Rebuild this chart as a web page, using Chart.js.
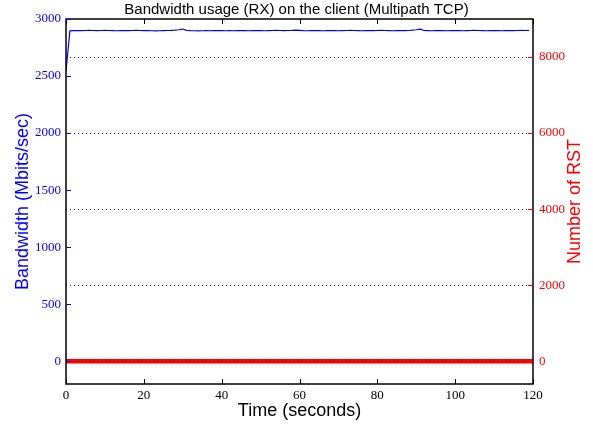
<!DOCTYPE html>
<html>
<head>
<meta charset="utf-8">
<script src="https://cdn.jsdelivr.net/npm/chart.js@4.4.0/dist/chart.umd.min.js"></script>
<style>
  html, body { margin: 0; padding: 0; background: #fff; }
</style>
</head>
<body>
<canvas id="chart" width="593" height="426"></canvas>
<script>
// time axis (seconds)
const timeSec = [
  0, 1, 2, 3, 4, 5, 6, 7, 8, 9, 10, 11, 12, 13, 14, 15, 16, 17, 18, 19,
  20, 21, 22, 23, 24, 25, 26, 27, 28, 29, 30, 31, 32, 33, 34, 35, 36, 37, 38, 39,
  40, 41, 42, 43, 44, 45, 46, 47, 48, 49, 50, 51, 52, 53, 54, 55, 56, 57, 58, 59,
  60, 61, 62, 63, 64, 65, 66, 67, 68, 69, 70, 71, 72, 73, 74, 75, 76, 77, 78, 79,
  80, 81, 82, 83, 84, 85, 86, 87, 88, 89, 90, 91, 92, 93, 94, 95, 96, 97, 98, 99,
  100, 101, 102, 103, 104, 105, 106, 107, 108, 109, 110, 111, 112, 113, 114, 115, 116, 117, 118, 119,
  120
];

// RX bandwidth, Mbits/sec (0..119 s)
const bandwidthRx = [
  2545, 2896, 2898, 2899, 2898, 2899, 2900, 2899, 2898, 2899,
  2900, 2899, 2898, 2897, 2898, 2899, 2898, 2899, 2900, 2899,
  2898, 2899, 2897, 2896, 2897, 2898, 2899, 2900, 2902, 2906,
  2912, 2900, 2898, 2897, 2896, 2897, 2898, 2897, 2898, 2899,
  2898, 2897, 2898, 2897, 2898, 2899, 2898, 2897, 2898, 2899,
  2898, 2897, 2898, 2899, 2900, 2899, 2898, 2899, 2900, 2903,
  2901, 2898, 2897, 2898, 2899, 2898, 2897, 2898, 2899, 2898,
  2897, 2898, 2899, 2900, 2899, 2898, 2897, 2898, 2899, 2898,
  2899, 2900, 2899, 2898, 2897, 2898, 2899, 2898, 2899, 2902,
  2906, 2911, 2899, 2898, 2897, 2898, 2899, 2898, 2897, 2898,
  2899, 2898, 2897, 2898, 2899, 2900, 2899, 2898, 2897, 2898,
  2899, 2898, 2897, 2898, 2899, 2898, 2899, 2900, 2899, 2901
];

// number of RST packets (0..120 s)
const rstCount = [
  0, 0, 0, 0, 0, 0, 0, 0, 0, 0, 0, 0, 0, 0, 0, 0, 0, 0, 0, 0,
  0, 0, 0, 0, 0, 0, 0, 0, 0, 0, 0, 0, 0, 0, 0, 0, 0, 0, 0, 0,
  0, 0, 0, 0, 0, 0, 0, 0, 0, 0, 0, 0, 0, 0, 0, 0, 0, 0, 0, 0,
  0, 0, 0, 0, 0, 0, 0, 0, 0, 0, 0, 0, 0, 0, 0, 0, 0, 0, 0, 0,
  0, 0, 0, 0, 0, 0, 0, 0, 0, 0, 0, 0, 0, 0, 0, 0, 0, 0, 0, 0,
  0, 0, 0, 0, 0, 0, 0, 0, 0, 0, 0, 0, 0, 0, 0, 0, 0, 0, 0, 0,
  0
];

const bwTicks = [0, 500, 1000, 1500, 2000, 2500, 3000];
const rstTicks = [0, 2000, 4000, 6000, 8000];
const timeTicks = [0, 20, 40, 60, 80, 100, 120];

const tickFont = { family: 'Liberation Serif', size: 13 };
const labelFont = { family: 'Liberation Sans', size: 18 };

const toTicks = (arr) => arr.map((v) => ({ value: v }));
const plain = (v) => String(v);

// matplotlib-ish frame: dotted grid on top, box, inward ticks, right title
const framePlugin = {
  id: 'frame',
  afterDatasetsDraw(chart) {
    const { ctx, chartArea: a, scales } = chart;
    ctx.save();

    ctx.strokeStyle = '#222';
    ctx.lineWidth = 1;
    ctx.setLineDash([1, 3]);
    for (const v of rstTicks) {
      const y = Math.round(scales.yR.getPixelForValue(v)) + 0.5;
      ctx.beginPath();
      ctx.moveTo(a.left, y);
      ctx.lineTo(a.right, y);
      ctx.stroke();
    }
    ctx.setLineDash([]);

    ctx.lineWidth = 1.5;
    ctx.strokeStyle = '#000';
    ctx.strokeRect(a.left, a.top, a.right - a.left, a.bottom - a.top);

    const len = 5;
    ctx.lineWidth = 1;
    for (const v of timeTicks) {
      const x = Math.round(scales.x.getPixelForValue(v)) + 0.5;
      ctx.beginPath();
      ctx.moveTo(x, a.bottom);
      ctx.lineTo(x, a.bottom - len);
      ctx.moveTo(x, a.top);
      ctx.lineTo(x, a.top + len);
      ctx.stroke();
    }
    ctx.strokeStyle = 'blue';
    for (const v of bwTicks) {
      const y = Math.round(scales.y.getPixelForValue(v)) + 0.5;
      ctx.beginPath();
      ctx.moveTo(a.left, y);
      ctx.lineTo(a.left + len, y);
      ctx.stroke();
    }
    ctx.strokeStyle = 'red';
    for (const v of rstTicks) {
      const y = Math.round(scales.yR.getPixelForValue(v)) + 0.5;
      ctx.beginPath();
      ctx.moveTo(a.right, y);
      ctx.lineTo(a.right - len, y);
      ctx.stroke();
    }

    // right axis title reads bottom-to-top
    ctx.fillStyle = 'red';
    ctx.font = `${labelFont.size}px ${labelFont.family}`;
    ctx.textAlign = 'center';
    ctx.textBaseline = 'middle';
    ctx.translate(575, (a.top + a.bottom) / 2);
    ctx.rotate(-Math.PI / 2);
    ctx.fillText('Number of RST', 0, 0);
    ctx.restore();
  },
};

new Chart(document.getElementById('chart'), {
  type: 'line',
  data: {
    labels: timeSec,
    datasets: [
      {
        label: 'Bandwidth',
        data: bandwidthRx,
        yAxisID: 'y',
        borderColor: 'blue',
        backgroundColor: 'blue',
        borderWidth: 1.2,
        pointRadius: 0,
        tension: 0,
      },
      {
        label: 'RST',
        data: rstCount,
        yAxisID: 'yR',
        borderColor: 'red',
        backgroundColor: 'red',
        borderWidth: 4.5,
        pointRadius: 0,
        tension: 0,
      },
    ],
  },
  plugins: [framePlugin],
  options: {
    responsive: false,
    animation: false,
    plugins: {
      legend: { display: false },
      tooltip: { enabled: false },
      title: {
        display: true,
        text: 'Bandwidth usage (RX) on the client (Multipath TCP)',
        color: '#000',
        font: { family: 'Liberation Sans', size: 15, weight: 'normal' },
        padding: { top: 1, bottom: 0 },
      },
    },
    scales: {
      x: {
        type: 'linear',
        min: 0,
        max: 120,
        afterBuildTicks: (s) => { s.ticks = toTicks(timeTicks); },
        afterFit: (s) => { s.height = 42; },
        grid: { display: false, drawTicks: false },
        border: { display: false },
        ticks: { color: '#000', font: tickFont, padding: 4, maxRotation: 0, callback: plain },
        title: {
          display: true,
          text: 'Time (seconds)',
          color: '#000',
          font: labelFont,
          padding: { top: 0, bottom: 4 },
        },
      },
      y: {
        position: 'left',
        min: -200,
        max: 3000,
        afterBuildTicks: (s) => { s.ticks = toTicks(bwTicks); },
        afterFit: (s) => { s.width = 66; },
        grid: { display: false, drawTicks: false },
        border: { display: false },
        ticks: { color: 'blue', font: tickFont, padding: 5, callback: plain },
        title: {
          display: true,
          text: 'Bandwidth (Mbits/sec)',
          color: 'blue',
          font: labelFont,
          padding: { top: 12, bottom: 0 },
        },
      },
      yR: {
        position: 'right',
        min: -600,
        max: 9000,
        afterBuildTicks: (s) => { s.ticks = toTicks(rstTicks); },
        afterFit: (s) => { s.width = 60; },
        grid: { display: false, drawTicks: false },
        border: { display: false },
        ticks: { color: 'red', font: tickFont, padding: 6, callback: plain },
      },
    },
  },
});
</script>
</body>
</html>
